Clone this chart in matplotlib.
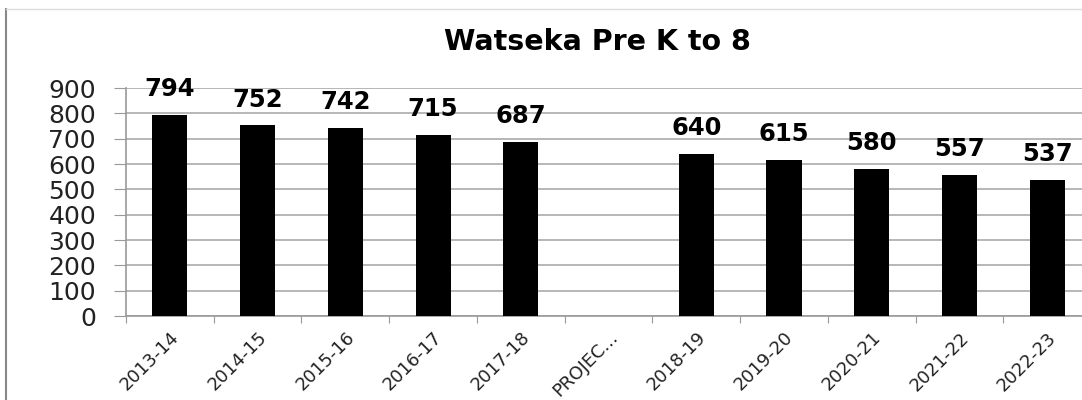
import numpy as np
import matplotlib.pyplot as plt
from matplotlib.lines import Line2D

# данные
years = ['2013-14', '2014-15', '2015-16', '2016-17', '2017-18', 'PROJEC...',
         '2018-19', '2019-20', '2020-21', '2021-22', '2022-23']
enrollment = [794, 752, 742, 715, 687, np.nan, 640, 615, 580, 557, 537]
yticks = [0, 100, 200, 300, 400, 500, 600, 700, 800, 900]

fig = plt.figure(figsize=(10.82, 4.0), dpi=100)
ax = fig.add_axes([126 / 1082, 1 - 316 / 400, (1091 - 126) / 1082, (316 - 88) / 400])

x = np.arange(len(years))
bars = ax.bar(x, enrollment, width=0.4, color='black', zorder=3)

for xi, v in zip(x, enrollment):
    if not np.isnan(v):
        ax.annotate(f'{v:.0f}', (xi, v), xytext=(0, 10), textcoords='offset points',
                    ha='center', va='bottom', fontsize=17.5, fontweight='bold', zorder=4)

ax.set_xlim(-0.5, len(years) - 0.5)
ax.set_ylim(0, 900)
ax.set_yticks(yticks)
ax.set_xticks(np.arange(len(years) + 1) - 0.5, minor=False)
ax.set_xticklabels([])
ax.set_xticks(x, minor=True)
ax.set_xticklabels(years, minor=True, rotation=45, ha='right', rotation_mode='anchor',
                   fontsize=13, color='#222222')
ax.tick_params(axis='x', which='minor', length=0, pad=9)
ax.tick_params(axis='x', which='major', length=5, color='#999999')
ax.tick_params(axis='y', length=8.6, color='#999999', labelsize=18, labelcolor='#222222', pad=13)

ax.yaxis.grid(True, color='#aaaaaa', linewidth=1.2, zorder=0)
for s in ['top', 'right']:
    ax.spines[s].set_visible(False)
ax.spines['left'].set_color('#999999')
ax.spines['bottom'].set_color('#999999')
ax.spines['left'].set_linewidth(1.2)
ax.spines['bottom'].set_linewidth(1.2)

fig.text(597 / 1082, 1 - 42 / 400, 'Watseka Pre K to 8', ha='center', va='center',
         fontsize=20.5, fontweight='bold')

# рамка области диаграммы
fig.add_artist(Line2D([6 / 1082, 6 / 1082], [0, 1 - 9 / 400], color='#888888', lw=1.5))
fig.add_artist(Line2D([6 / 1082, 1], [1 - 9 / 400, 1 - 9 / 400], color='#dddddd', lw=1))

fig.savefig('out.png', dpi=100)
